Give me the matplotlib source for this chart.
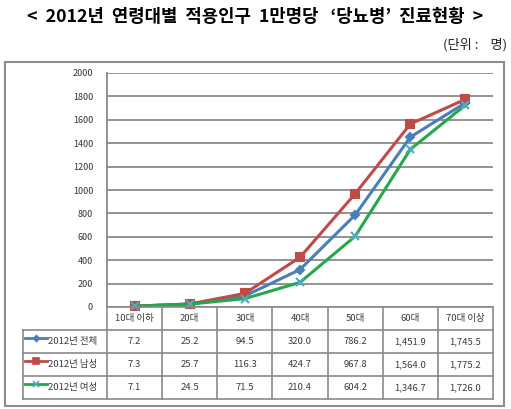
import matplotlib.pyplot as plt
from matplotlib.patches import Rectangle
from matplotlib.lines import Line2D

plt.rcParams['font.family'] = ['Noto Sans CJK KR', 'DejaVu Sans']

# data
categories = ['10대 이하', '20대', '30대', '40대', '50대', '60대', '70대 이상']
series_names = ['2012년 전체', '2012년 남성', '2012년 여성']
total = [7.2, 25.2, 94.5, 320.0, 786.2, 1451.9, 1745.5]
male = [7.3, 25.7, 116.3, 424.7, 967.8, 1564.0, 1775.2]
female = [7.1, 24.5, 71.5, 210.4, 604.2, 1346.7, 1726.0]
yticks = [0, 200, 400, 600, 800, 1000, 1200, 1400, 1600, 1800, 2000]

series = [total, male, female]
line_colors = ['#4a7ebb', '#be4b48', '#23a84a']
marker_styles = ['D', 's', 'x']
marker_faces = ['#4a7ebb', '#be4b48', '#4bacc6']
marker_sizes = [4.5, 6, 6]

W, H = 511, 409
fig = plt.figure(figsize=(W / 100, H / 100), dpi=100)

def box(x0, y0, x1, y1):
    # pixel box (top-left origin) -> figure fraction rect
    return [x0 / W, 1 - y1 / H, (x1 - x0) / W, (y1 - y0) / H]

# title and unit
fig.text(0.5, 1 - 17 / H, '<  2012년  연령대별  적용인구  1만명당   ‘당뇨병’  진료현황  >',
         ha='center', va='center', fontsize=12.8, fontweight='bold', color='black')
fig.text(507 / W, 1 - 45 / H, '(단위 :    명)', ha='right', va='center',
         fontsize=9.5, color='#222222')

# outer frame
fig.patches.append(Rectangle((5 / W, 1 - 406 / H), 499 / W, 344 / H,
                             transform=fig.transFigure, fill=False,
                             edgecolor='#8c8c8c', lw=1.5))

grid_c = '#8a8a8a'

# plot area
ax = fig.add_axes(box(107, 73, 493, 307))
x = list(range(len(categories)))
for vals, lc, mk, mf, ms in zip(series, line_colors, marker_styles, marker_faces, marker_sizes):
    ax.plot(x, vals, color=lc, lw=2.2, marker=mk, markersize=ms,
            markerfacecolor=mf, markeredgecolor=mf, markeredgewidth=1.5,
            zorder=3, clip_on=False)
ax.set_xlim(-0.5, len(categories) - 0.5)
ax.set_ylim(0, 2000)
ax.set_yticks(yticks)
ax.set_yticklabels([str(v) for v in yticks], fontsize=6.5, color='#333333')
ax.tick_params(axis='y', length=0, pad=10)
ax.set_xticks([])
ax.grid(axis='y', color=grid_c, lw=1.3)
ax.set_axisbelow(True)
for s in ['top', 'right', 'bottom']:
    ax.spines[s].set_visible(False)
ax.spines['left'].set_color(grid_c)
ax.spines['left'].set_linewidth(1.3)

# data table under the plot
tb = fig.add_axes(box(107, 307, 493, 399))
tb.set_xlim(-0.5, len(categories) - 0.5)
tb.set_ylim(3, -1)
tb.axis('off')
col_w = (493 - 107) / len(categories)
leg_left = -0.5 - (107 - 23) / col_w

def hline(y, x0, x1):
    tb.add_line(Line2D([x0, x1], [y, y], color=grid_c, lw=1.2, clip_on=False))

def vline(xv, y0, y1):
    tb.add_line(Line2D([xv, xv], [y0, y1], color=grid_c, lw=1.2, clip_on=False))

hline(-1, -0.5, len(categories) - 0.5)
for r in range(4):
    hline(r, leg_left, len(categories) - 0.5)
vline(leg_left, 0, 3)
for c in range(len(categories) + 1):
    vline(c - 0.5, -1, 3)

for i, cat in enumerate(categories):
    tb.text(i, -0.5, cat, ha='center', va='center', fontsize=6.8, color='#3a3a3a')

for r, (name, vals) in enumerate(zip(series_names, series)):
    yc = r + 0.5
    lx0 = leg_left + 2 / col_w
    lx1 = leg_left + 24 / col_w
    tb.add_line(Line2D([lx0, lx1], [yc - 0.15, yc - 0.15], color=line_colors[r], lw=2,
                       clip_on=False))
    tb.plot([(lx0 + lx1) / 2], [yc - 0.15], marker=marker_styles[r],
            markersize=marker_sizes[r] - 1.5, color=marker_faces[r],
            markeredgewidth=1.2, clip_on=False)
    tb.text(leg_left + 25 / col_w, yc, name, ha='left', va='center', fontsize=6.8, color='#3a3a3a')
    for i, v in enumerate(vals):
        tb.text(i, yc, f'{v:,.1f}', ha='center', va='center', fontsize=6.8, color='#3a3a3a')

fig.savefig('out.png', dpi=100)
